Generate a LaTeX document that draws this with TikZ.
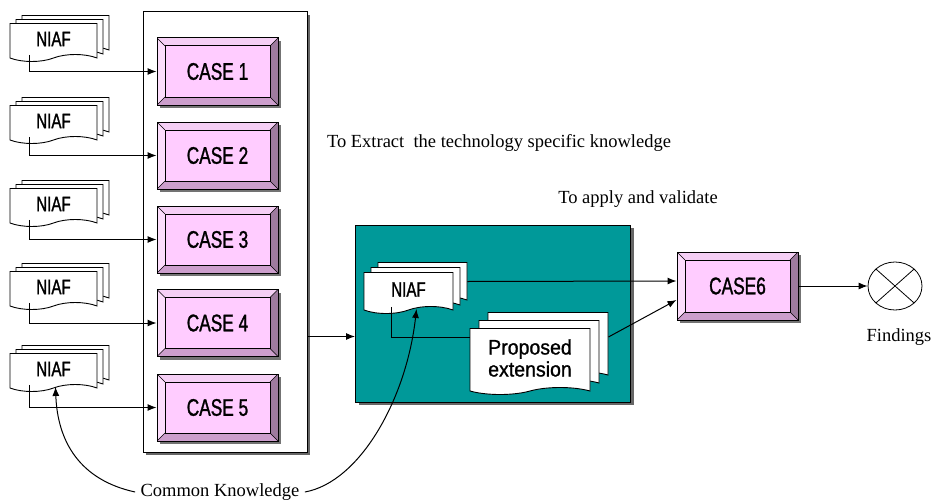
\documentclass[tikz,border=0pt]{standalone}
\usepackage{fontspec}
\setmainfont{Liberation Serif}
\newfontfamily\boxfont[FakeStretch=0.72, FakeBold=1.2]{Liberation Sans}
\newfontfamily\propfont[FakeStretch=0.93, FakeBold=1]{Liberation Sans}
\usetikzlibrary{shapes, shapes.symbols, shapes.geometric, arrows.meta, shadows}
\definecolor{caseface}{HTML}{FFCCFF}
\definecolor{casetop}{HTML}{F5CFF5}
\definecolor{caseleft}{HTML}{FCDDFC}
\definecolor{casebottom}{HTML}{CC9ECC}
\definecolor{caseright}{HTML}{9E7B9E}
\definecolor{tealbox}{HTML}{009999}
\tikzstyle{arr} = [-{Latex[length=9pt,width=7pt]}, line width=1pt]
\tikzstyle{frame} = [draw, line width=1pt, fill=white, rectangle, drop shadow={shadow xshift=3pt, shadow yshift=-3pt, fill=black!60, opacity=1}]
\tikzstyle{casebox} = [draw, line width=1pt, rectangle, fill=caseface, minimum width=121pt, minimum height=67pt,
  font=\boxfont\fontsize{24}{26}\selectfont,
  drop shadow={shadow xshift=3pt, shadow yshift=-3pt, fill=black!55, opacity=1},
  path picture={
    \coordinate (bnw) at (path picture bounding box.north west);
    \coordinate (bne) at (path picture bounding box.north east);
    \coordinate (bsw) at (path picture bounding box.south west);
    \coordinate (bse) at (path picture bounding box.south east);
    \coordinate (inw) at ([shift={(8pt,-8pt)}]bnw);
    \coordinate (ine) at ([shift={(-8pt,-8pt)}]bne);
    \coordinate (isw) at ([shift={(8pt,8pt)}]bsw);
    \coordinate (ise) at ([shift={(-8pt,8pt)}]bse);
    \fill[casetop] (bnw) -- (bne) -- (ine) -- (inw) -- cycle;
    \fill[caseleft] (bnw) -- (inw) -- (isw) -- (bsw) -- cycle;
    \fill[casebottom] (bsw) -- (isw) -- (ise) -- (bse) -- cycle;
    \fill[caseright] (bne) -- (bse) -- (ise) -- (ine) -- cycle;
    \draw[line width=1pt] (inw) rectangle (ise);
    \draw[line width=0.6pt] (bnw) -- (inw) (bne) -- (ine) (bsw) -- (isw) (bse) -- (ise);
  }]
\tikzstyle{doc} = [draw, line width=0.9pt, fill=white, tape, tape bend top=none, tape bend bottom=in and out, tape bend height=7pt,
  font=\boxfont\fontsize{21}{22}\selectfont, align=center, inner sep=2pt]
\tikzstyle{label} = [font=\fontsize{18.5}{20}\selectfont]

\begin{document}
\begin{tikzpicture}[x=1pt, y=-1pt]
	\useasboundingbox[fill=white] (0,0) rectangle (936,503);
	\node[frame, minimum width=164pt, minimum height=440pt] (frame) at (225,232) {};
	\foreach \i/\ny/\cy in {1/39/71.5, 2/121/155.5, 3/204/239.5, 4/287/323, 5/369/407.5}{
		\node[casebox] (case\i) at (217.5,\cy) {CASE \i};
		\node[doc, minimum width=87pt, minimum height=38pt,
			copy shadow={shadow xshift=12pt, shadow yshift=8pt},
			copy shadow={shadow xshift=6pt, shadow yshift=4pt}] (niaf\i) at (53.5,\ny) {NIAF};
		\draw[arr] ([xshift=-24pt]niaf\i.south) |- (case\i.west);
	}
	\node[frame, fill=tealbox, minimum width=275pt, minimum height=177pt] (applybox) at (493,313.5) {};
	\node[doc, minimum width=89pt, minimum height=41pt,
		copy shadow={shadow xshift=14pt, shadow yshift=10pt},
		copy shadow={shadow xshift=7pt, shadow yshift=5pt}] (niafm) at (408.5,289.5) {NIAF};
	\node[doc, font=\propfont\fontsize{21}{22}\selectfont, minimum width=120pt, minimum height=66pt,
		copy shadow={shadow xshift=18pt, shadow yshift=16pt},
		copy shadow={shadow xshift=9pt, shadow yshift=8pt}] (prop) at (530,358) {Proposed\\extension};
	\node[casebox, minimum height=68pt] (case6) at (737.5,286) {CASE6};
	\node[draw, ellipse, line width=0.8pt, fill=white, minimum width=54pt, minimum height=48pt,
		path picture={\draw[line width=0.8pt] (path picture bounding box.north west) -- (path picture bounding box.south east)
			(path picture bounding box.north east) -- (path picture bounding box.south west);}] (findings) at (895,286) {};
	\node[label] (extract) at (499,143) {To Extract\ \ the technology specific knowledge};
	\node[label] (apply) at (638,199) {To apply and validate};
	\node[label] (findtext) at (899,337) {Findings};
	\node[label] (common) at (220,492) {Common Knowledge};
	\coordinate (tin) at ([yshift=-23pt]applybox.west);
	\draw[arr] (frame.east |- tin) -- (tin);
	\draw[line width=1pt] ([xshift=-17pt]niafm.south) |- ([yshift=21pt]prop.west);
	\draw[arr] ([xshift=14pt,yshift=8pt]niafm.east) -- ([yshift=5pt]case6.west);
	\draw[arr] ([xshift=18pt,yshift=21pt]prop.east) -- ([yshift=-14pt]case6.west);
	\draw[arr] (case6.east) -- (findings.west);
	\draw[arr] ([xshift=-2pt]common.west) .. controls +(-55,-12) and +(2,55) .. ([xshift=2pt,yshift=-2pt]niaf5.south);
	\draw[arr] ([xshift=2pt]common.east) .. controls +(55,-10) and +(-10,90) .. ([xshift=8pt,yshift=-2pt]niafm.south);
\end{tikzpicture}
\end{document}
